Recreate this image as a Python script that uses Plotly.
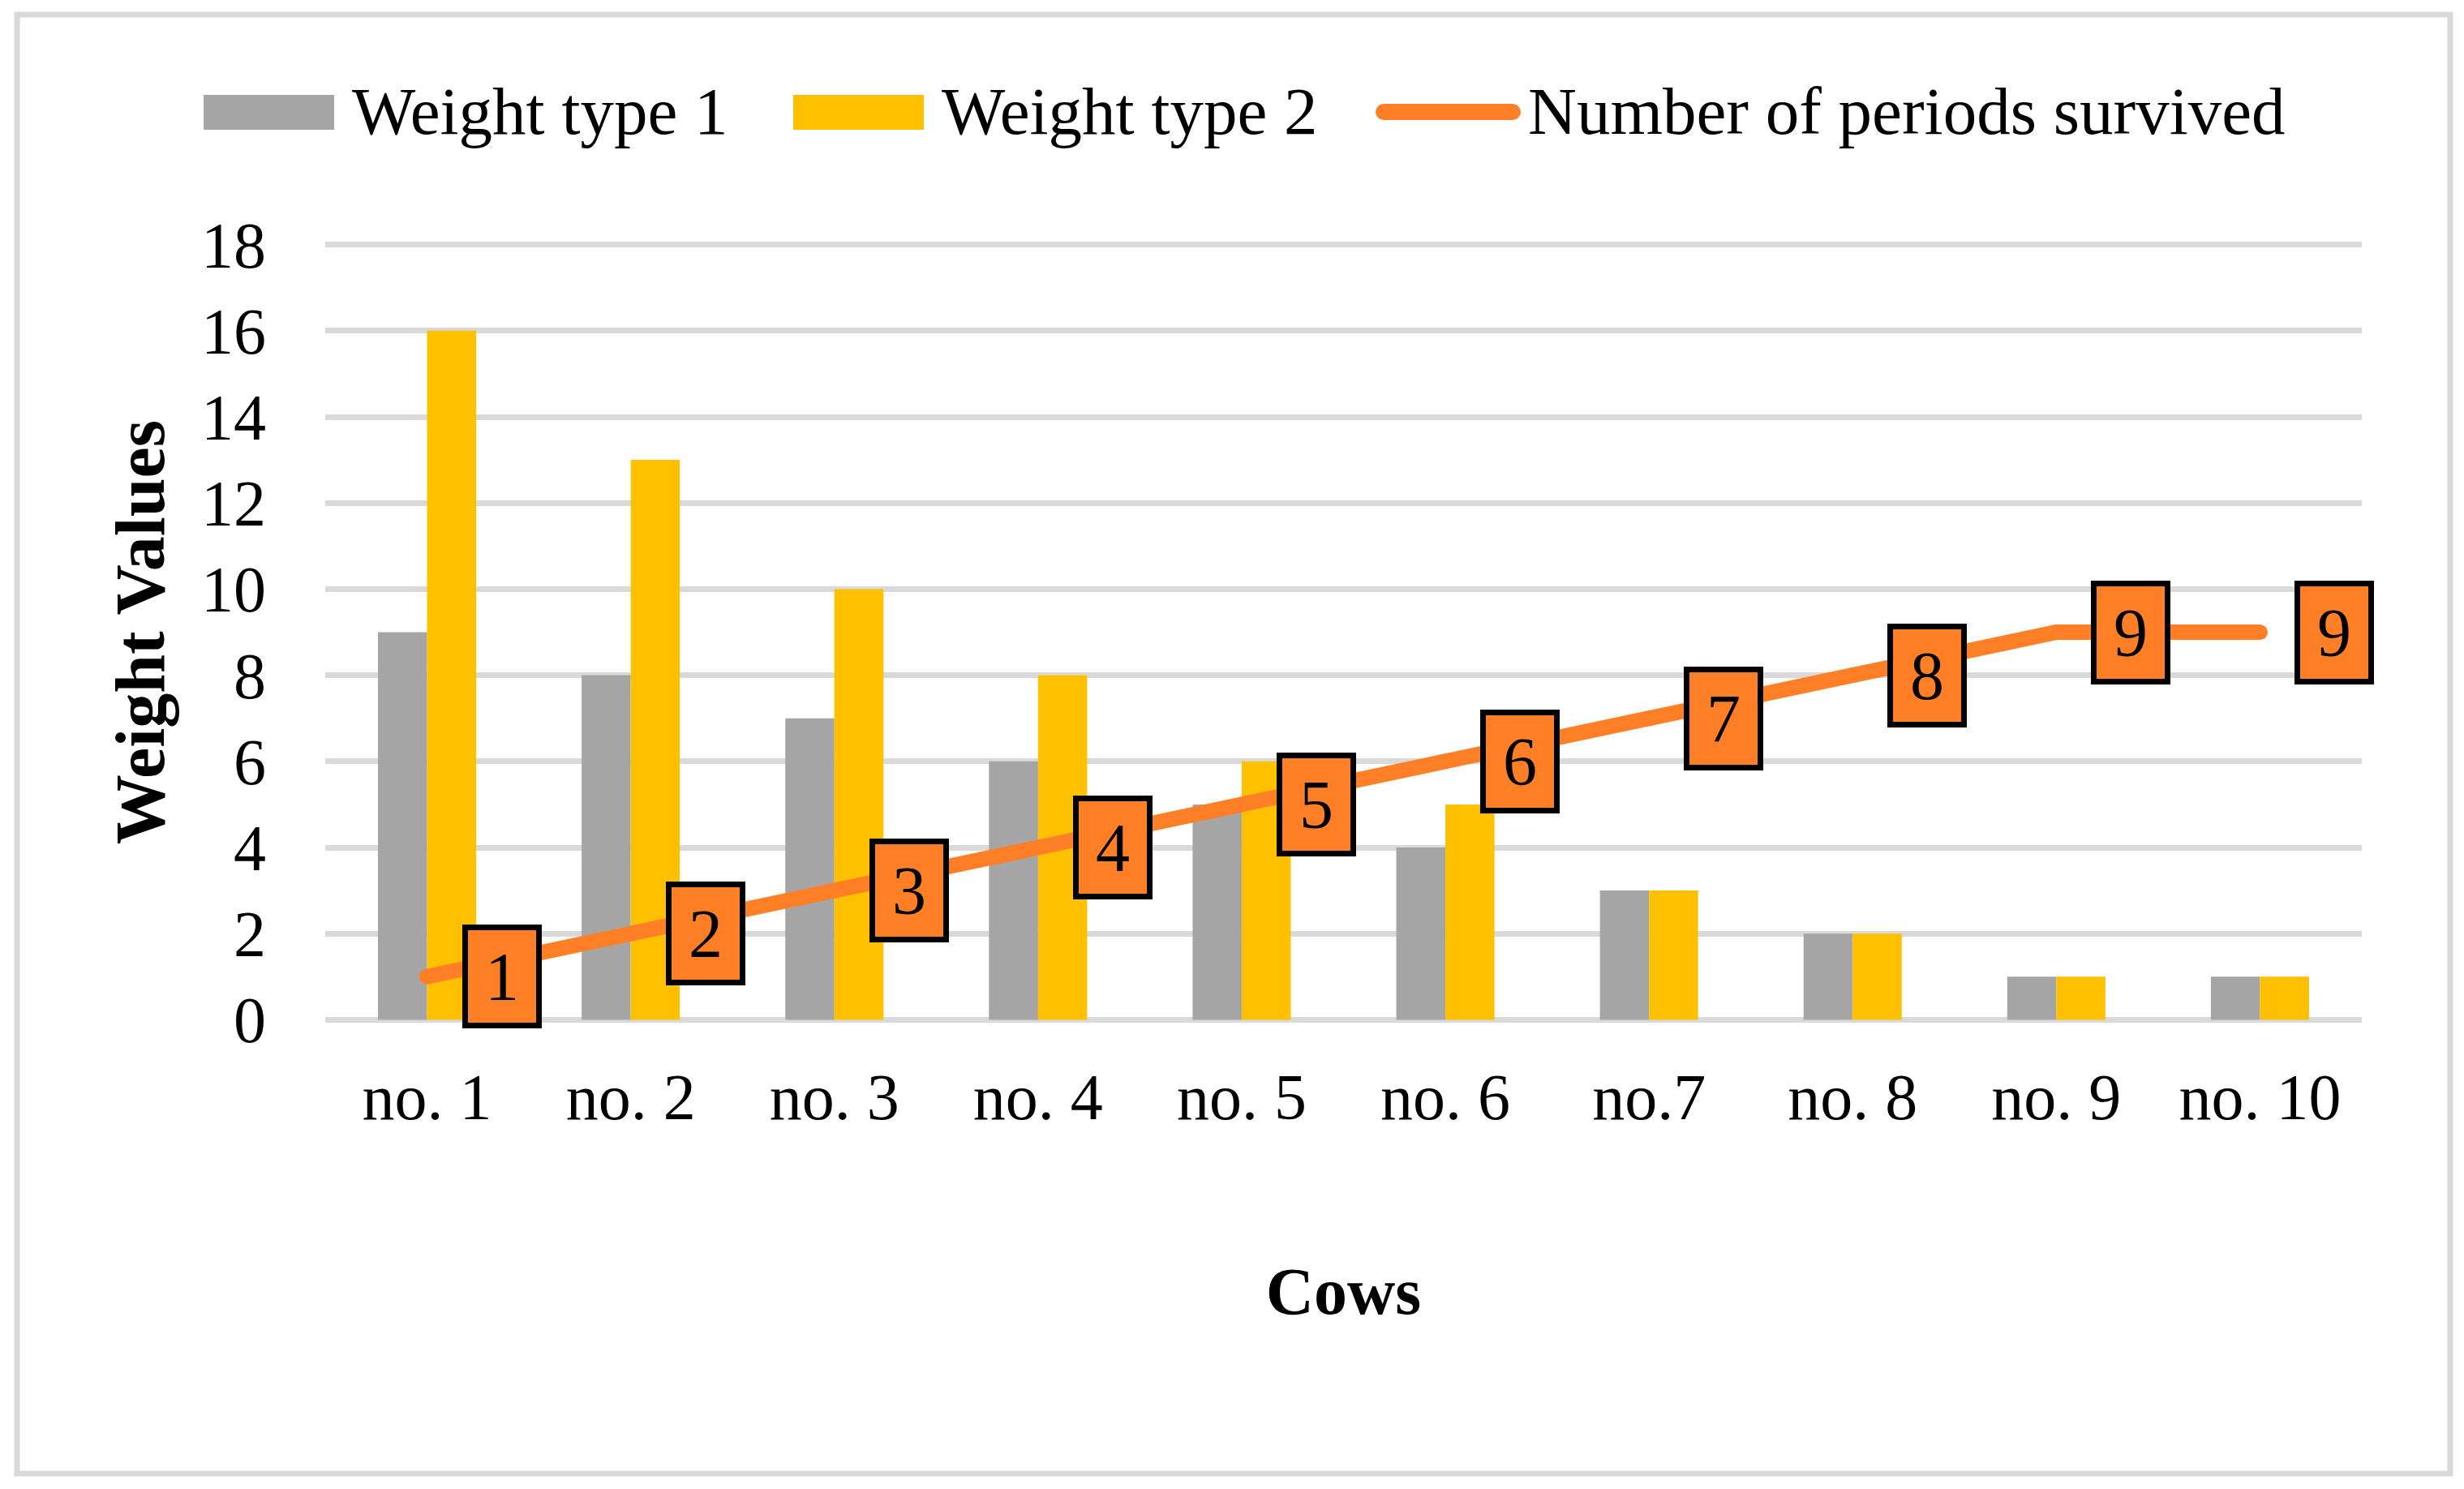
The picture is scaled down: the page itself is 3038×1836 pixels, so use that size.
import plotly.graph_objects as go

# ---- data ----
cows = ["no. 1", "no. 2", "no. 3", "no. 4", "no. 5", "no. 6", "no.7", "no. 8", "no. 9", "no. 10"]
weight_type_1 = [9, 8, 7, 6, 5, 4, 3, 2, 1, 1]
weight_type_2 = [16, 13, 10, 8, 6, 5, 3, 2, 1, 1]
periods_survived = [1, 2, 3, 4, 5, 6, 7, 8, 9, 9]
y_ticks = [0, 2, 4, 6, 8, 10, 12, 14, 16, 18]

# ---- layout geometry (pixels; page body adds an 8px offset) ----
OFF = 8
W, H = 3038 - OFF, 1836 - OFF
L, R, T, B = 401 - OFF, 126, 300 - OFF, 577
PW, PH = W - L - R, H - T - B
FONT = "Liberation Serif"
GRAY, YELLOW, ORANGE, GRID = "#A5A5A5", "#FFC000", "#FF7F27", "#D9D9D9"


def px(xs):
    return (xs - OFF - L) / PW


def py(ys):
    return (H - B - (ys - OFF)) / PH


fig = go.Figure()
fig.add_trace(go.Bar(name="Weight type 1", x=cows, y=weight_type_1, marker=dict(color=GRAY, line=dict(width=0))))
fig.add_trace(go.Bar(name="Weight type 2", x=cows, y=weight_type_2, marker=dict(color=YELLOW, line=dict(width=0))))
fig.add_trace(go.Scatter(name="Number of periods survived", x=cows, y=periods_survived, mode="lines+markers",
                         line=dict(color=ORANGE, width=19), marker=dict(color=ORANGE, size=19)))

annotations = []
for c, v in zip(cows, periods_survived):
    annotations.append(dict(x=c, y=v, xref="x", yref="y", text=str(v), showarrow=False, xshift=92,
                            xanchor="center", yanchor="middle", width=84, height=114, borderpad=0,
                            bgcolor=ORANGE, bordercolor="black", borderwidth=7,
                            font=dict(family=FONT, size=84, color="black"), align="center", valign="middle"))

# manual legend and outer frame
shapes = [
    dict(type="rect", xref="paper", yref="paper", x0=px(21), x1=px(3021), y0=py(18), y1=py(1817),
         line=dict(color=GRID, width=7), fillcolor="rgba(0,0,0,0)", layer="below"),
    dict(type="rect", xref="paper", yref="paper", x0=px(251), x1=px(412), y0=py(117), y1=py(160),
         line=dict(width=0), fillcolor=GRAY),
    dict(type="rect", xref="paper", yref="paper", x0=px(978), x1=px(1139), y0=py(117), y1=py(160),
         line=dict(width=0), fillcolor=YELLOW),
    dict(type="line", xref="paper", yref="paper", x0=px(1706), x1=px(1865), y0=py(138), y1=py(138),
         line=dict(color=ORANGE, width=20)),
    dict(type="circle", xref="paper", yref="paper", x0=px(1696), x1=px(1716), y0=py(128), y1=py(148),
         line=dict(width=0), fillcolor=ORANGE),
    dict(type="circle", xref="paper", yref="paper", x0=px(1855), x1=px(1875), y0=py(128), y1=py(148),
         line=dict(width=0), fillcolor=ORANGE),
]
for label, xs in [("Weight type 1", 432), ("Weight type 2", 1159), ("Number of periods survived", 1882)]:
    annotations.append(dict(x=px(xs), y=py(137), xref="paper", yref="paper", text=label, showarrow=False,
                            xanchor="left", yanchor="middle", font=dict(family=FONT, size=83, color="black")))

fig.update_layout(
    width=W, height=H,
    margin=dict(l=L, r=R, t=T, b=B, autoexpand=False),
    paper_bgcolor="white", plot_bgcolor="white",
    barmode="group", bargap=0.518, bargroupgap=0,
    showlegend=False,
    font=dict(family=FONT, color="black"),
    annotations=annotations,
    shapes=shapes,
)
fig.update_xaxes(
    type="category", range=[-0.5, 9.5], showgrid=False, zeroline=False, showline=False, ticks="",
    tickfont=dict(family=FONT, size=80, color="black"), ticklabelstandoff=40,
    title=dict(text="<b>Cows</b>", font=dict(family=FONT, size=82, color="black"), standoff=166),
    automargin=False,
)
fig.update_yaxes(
    range=[-0.03, 18.03], tickmode="array", tickvals=y_ticks, ticktext=[str(t) for t in y_ticks],
    showgrid=True, gridcolor=GRID, gridwidth=7, zeroline=False, showline=False, ticks="",
    tickfont=dict(family=FONT, size=80, color="black"), ticklabelstandoff=72,
    title=dict(text="<b>Weight Values</b>", font=dict(family=FONT, size=86, color="black"), standoff=16),
    automargin=False,
)

fig.write_html("out.html")
